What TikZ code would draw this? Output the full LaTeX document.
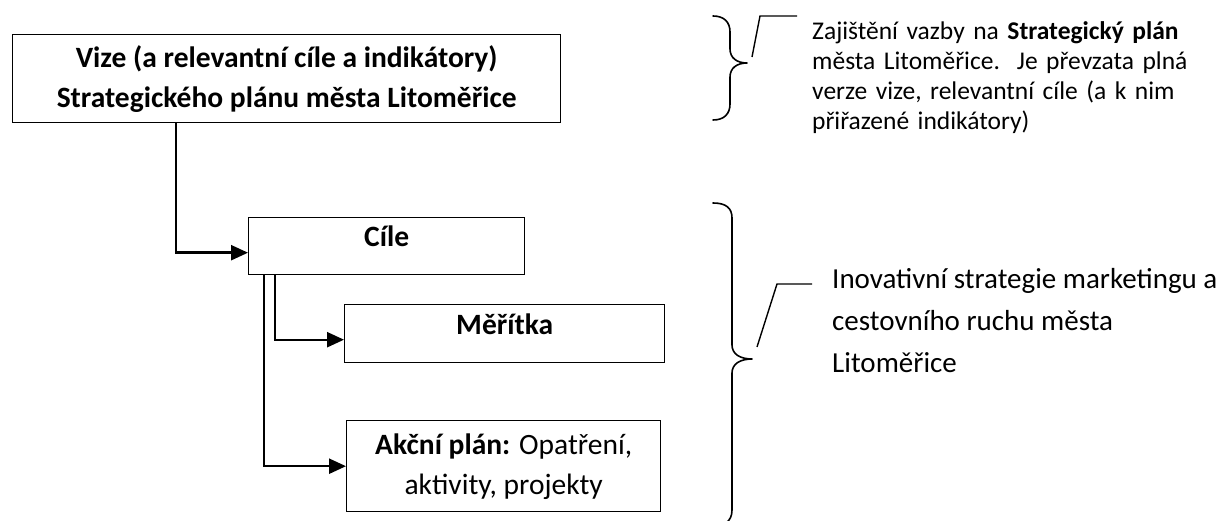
\documentclass[tikz,border=0pt]{standalone}
\usepackage{fontspec}
\setmainfont{Carlito}
\usetikzlibrary{arrows.meta,calc}
\tikzset{
  boxnode/.style={draw, line width=1.4pt, rectangle, inner sep=0pt, align=center,
    font=\fontsize{29.5pt}{40pt}\selectfont\bfseries},
  conn/.style={line width=2.4pt, line join=miter, -{Triangle[length=17pt,width=15pt]}},
  bracepath/.style={line width=1.6pt, line cap=round, line join=round},
  leader/.style={line width=1.4pt},
}
\begin{document}
\begin{tikzpicture}[x=1pt,y=-1pt]
\useasboundingbox (0,0) rectangle (1226,521);
\fill[white] (0,0) rectangle (1226,521);

% boxes
\node[boxnode, minimum width=548pt, minimum height=88pt, anchor=north west] (top) at (12,34)
  {Vize (a relevantní cíle a indikátory)\\Strategického plánu města Litoměřice};
\node[boxnode, minimum width=276pt, minimum height=57pt, anchor=north west, text depth=20pt] (cile) at (248,217) {Cíle};
\node[boxnode, minimum width=320pt, minimum height=58pt, anchor=north west, text depth=20pt] (mer) at (344,304) {Měřítka};
\node[boxnode, minimum width=314pt, minimum height=91pt, anchor=north west] (akce) at (346,420)
  {Akční plán:\mdseries{} Opatření,\\\mdseries aktivity, projekty};

% connector x positions
\coordinate (c1) at (176,0);
\coordinate (c2) at (264,0);
\coordinate (c3) at (275,0);

\draw[conn] (top.south -| c1) |- ([yshift=-6.5pt]cile.west);
\draw[conn] (cile.south -| c3) |- ([yshift=-6pt]mer.west);
\draw[conn] (cile.south -| c2) |- (akce.west);

% top-right brace and text
\draw[bracepath] (713,16) .. controls (724,16) and (730,22) .. (730,32) -- (730,49)
  .. controls (730,58) and (737,63) .. (747,63)
  .. controls (737,63) and (730,68) .. (730,77) -- (730,104)
  .. controls (730,114) and (724,120) .. (713,120);
\node[anchor=north west, inner sep=0pt, text width=403pt,
  font=\fontsize{25.5pt}{30pt}\selectfont] (vazba) at (812,21)
  {\noindent Zajištění vazby na \textbf{Strategický plán}\linebreak
   města Litoměřice.\ \ Je převzata plná\linebreak
   verze vize, relevantní cíle (a k~nim\linebreak
   přiřazené indikátory)\par};
\coordinate (l1a) at (752,57);
\coordinate (l1b) at (760,16);
\coordinate (l1c) at (797,16);
\draw[leader] (l1a) -- (l1b) -- (l1c);

% bottom-right brace and text
\draw[bracepath] (713,203) .. controls (726,203) and (732,208) .. (732,218) -- (732,345)
  .. controls (732,354) and (740,359) .. (752,359)
  .. controls (740,359) and (732,364) .. (732,373) -- (732,510)
  .. controls (732,516) and (730,520) .. (726,523);
\node[anchor=north west, inner sep=0pt, align=left,
  font=\fontsize{29pt}{42pt}\selectfont] (strat) at (832,268)
  {Inovativní strategie marketingu a\\cestovního ruchu města\\Litoměřice};
\coordinate (l2a) at (757,347);
\coordinate (l2b) at (777,284);
\coordinate (l2c) at (812,284);
\draw[leader] (l2a) -- (l2b) -- (l2c);
\end{tikzpicture}
\end{document}
